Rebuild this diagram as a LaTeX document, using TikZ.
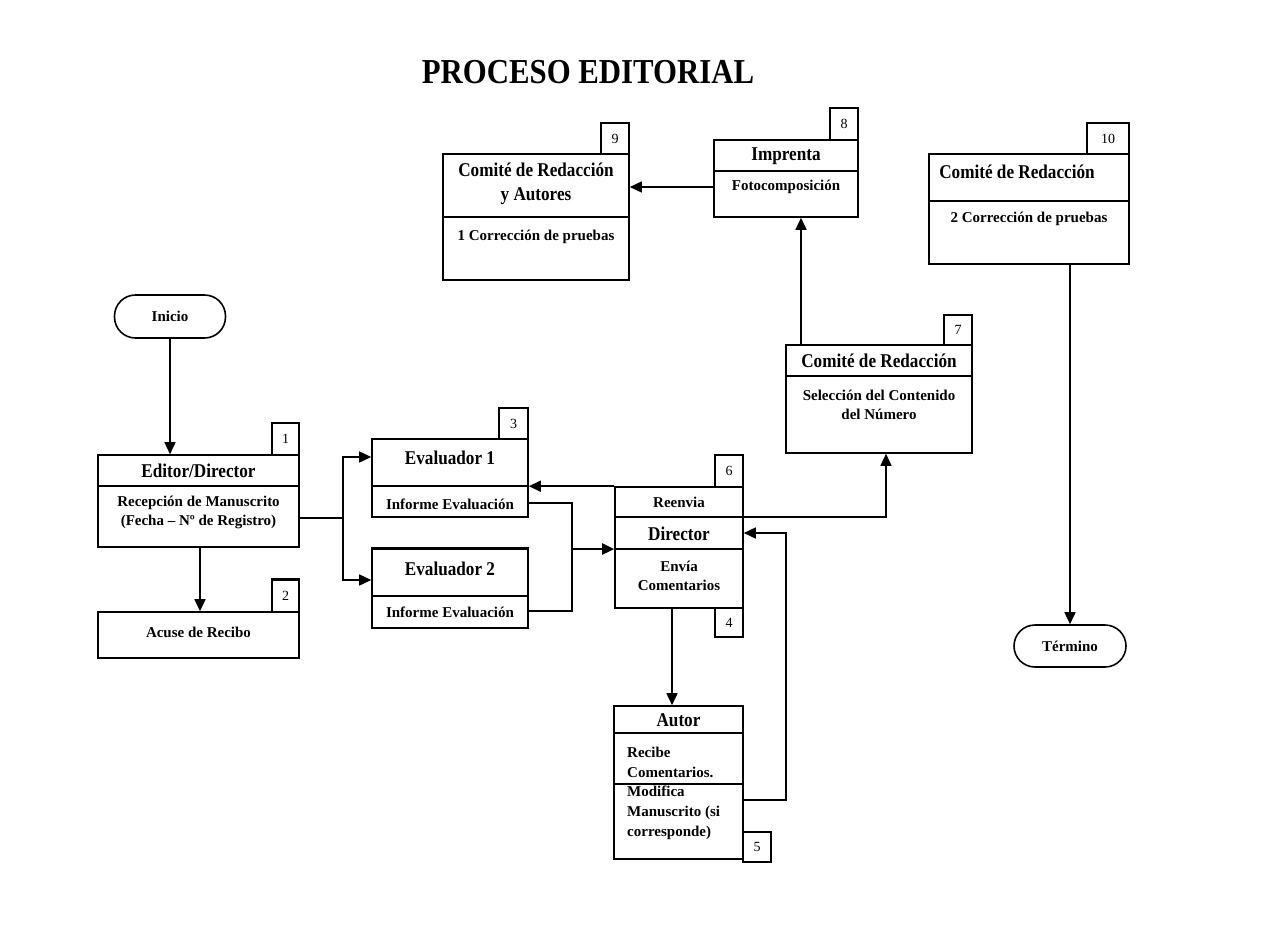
\documentclass[tikz,border=0pt]{standalone}
\usepackage{fontspec}
\setmainfont{Liberation Serif}
\newfontfamily\condfont[FakeStretch=0.88]{Liberation Serif}
\usetikzlibrary{arrows.meta}
\begin{document}
\begin{tikzpicture}[x=1pt,y=-1pt,
  ln/.style={line width=1.6pt, draw=black},
  thk/.style={line width=2.5pt, draw=black},
  arr/.style={ln, -{Triangle[length=12pt,width=11pt]}},
  thkarr/.style={thk, -{Triangle[length=12pt,width=11pt]}},
  box/.style={draw=black, line width=1.6pt, inner sep=0pt, fill=white},
  numbox/.style={draw=black, line width=1.6pt, inner sep=0pt, font=\fontsize{14}{14}\selectfont},
  term/.style={draw=black, line width=1.6pt, rounded corners=21pt, inner sep=0pt, font=\bfseries\fontsize{15}{18}\selectfont},
  head/.style={inner sep=0pt, align=center, font=\condfont\bfseries\fontsize{19.5}{24}\selectfont},
  body/.style={inner sep=0pt, align=center, font=\bfseries\fontsize{15}{19}\selectfont},
  bodyl/.style={inner sep=0pt, align=left, anchor=west, font=\bfseries\fontsize{15}{20}\selectfont},
  ttl/.style={inner sep=0pt, font=\condfont\bfseries\fontsize{35}{35}\selectfont}]
\useasboundingbox (0,0) rectangle (1276,945);

% title
\node[ttl] (title) at (588,72) {PROCESO EDITORIAL};

% terminators
\node[term, minimum width=111pt, minimum height=43pt] (inicio) at (170,316.5) {Inicio};
\node[term, minimum width=112pt, minimum height=42pt] (fin) at (1070,646) {Término};

% box 9
\node[box, minimum width=186pt, minimum height=126pt] (b9) at (536,217) {};
\node[numbox, minimum width=28pt, minimum height=31pt] (n9) at (615,138.5) {9};
\draw[ln] (b9.west |- 0,217) -- (b9.east |- 0,217);
\node[head] (t9a) at (536,184) {Comité de Redacción\\y Autores};
\node[body] (t9b) at (536,237) {1 Corrección de pruebas};

% box 8
\node[box, minimum width=144pt, minimum height=77pt] (b8) at (786,178.5) {};
\node[numbox, minimum width=28pt, minimum height=32pt] (n8) at (844,124) {8};
\draw[ln] (b8.west |- 0,171) -- (b8.east |- 0,171);
\node[head] (t8a) at (786,156) {Imprenta};
\node[body] (t8b) at (786,187) {Fotocomposición};

% box 10
\node[box, minimum width=200pt, minimum height=110pt] (b10) at (1029,209) {};
\node[numbox, minimum width=42pt, minimum height=31pt] (n10) at (1108,138.5) {10};
\draw[ln] (b10.west |- 0,201) -- (b10.east |- 0,201);
\node[head] (t10a) at (1017,172) {Comité de Redacción};
\node[body] (t10b) at (1029,219) {2 Corrección de pruebas};

% box 7
\node[box, minimum width=186pt, minimum height=108pt] (b7) at (879,399) {};
\node[numbox, minimum width=28pt, minimum height=30pt] (n7) at (958,330) {7};
\draw[ln] (b7.west |- 0,376) -- (b7.east |- 0,376);
\node[head] (t7a) at (879,361) {Comité de Redacción};
\node[body] (t7b) at (879,404.5) {Selección del Contenido\\del Número};

% box 1
\node[box, minimum width=201pt, minimum height=92pt] (b1) at (198.5,501) {};
\node[numbox, minimum width=27pt, minimum height=32pt] (n1) at (285.5,439) {1};
\draw[ln] (b1.west |- 0,486) -- (b1.east |- 0,486);
\node[head] (t1a) at (198.5,471) {Editor/Director};
\node[body] (t1b) at (198.5,512.5) {Recepción de Manuscrito\\(Fecha -- Nº de Registro)};

% box 2
\node[box, minimum width=201pt, minimum height=46pt] (b2) at (198.5,635) {};
\node[numbox, minimum width=27pt, minimum height=32pt] (n2) at (285.5,596) {2};
\draw[thk] (n2.north west) -- (n2.north east);
\node[body] (t2) at (198.5,632) {Acuse de Recibo};

% evaluador 1
\node[box, minimum width=156pt, minimum height=78pt] (e1) at (450,478) {};
\node[numbox, minimum width=29pt, minimum height=31pt] (n3) at (513.5,423.5) {3};
\draw[ln] (e1.west |- 0,486) -- (e1.east |- 0,486);
\node[head] (te1a) at (450,458) {Evaluador 1};
\node[body] (te1b) at (450,504) {Informe Evaluación};

% evaluador 2
\node[box, minimum width=156pt, minimum height=79pt] (e2) at (450,588.5) {};
\draw[thk] (e2.north west) -- (e2.north east);
\draw[ln] (e2.west |- 0,596) -- (e2.east |- 0,596);
\node[head] (te2a) at (450,569) {Evaluador 2};
\node[body] (te2b) at (450,612) {Informe Evaluación};

% director
\node[box, minimum width=128pt, minimum height=121pt] (d) at (679,547.5) {};
\node[numbox, minimum width=28pt, minimum height=32pt] (n6) at (729,471) {6};
\node[numbox, minimum width=28pt, minimum height=29pt] (n4) at (729,622.5) {4};
\draw[ln] (d.west |- 0,517) -- (d.east |- 0,517);
\draw[thk] (d.west |- 0,549) -- (d.east |- 0,549);
\node[body] (tda) at (679,502) {Reenvia};
\node[head] (tdb) at (679,534) {Director};
\node[body] (tdc) at (679,576) {Envía\\Comentarios};

% autor
\node[box, minimum width=129pt, minimum height=153pt] (au) at (678.5,782.5) {};
\node[numbox, minimum width=28pt, minimum height=30pt] (n5) at (757,847) {5};
\draw[ln] (au.west |- 0,733) -- (au.east |- 0,733);
\draw[ln] (au.west |- 0,784) -- (au.east |- 0,784);
\node[head] (tau) at (678.5,720) {Autor};
\node[bodyl] (tau1) at (627,762.5) {Recibe\\Comentarios.};
\node[bodyl] (tau2) at (627,812.5) {Modifica\\Manuscrito (si\\corresponde)};

% connectors
\draw[arr] (inicio.south) -- (inicio.south |- b1.north);
\draw[arr] ([xshift=1.5pt]b1.south) -- ([xshift=1.5pt]b1.south |- b2.north);

\coordinate (j1) at (343,518);
\coordinate (j1t) at (343,457);
\coordinate (j1b) at (343,580);
\draw[ln] (b1.east |- j1) -- (j1);
\draw[arr] (j1) -- (j1t) -- (e1.west |- j1t);
\draw[arr] (j1) -- (j1b) -- (e2.west |- j1b);

\draw[arr] (d.north west) -- (e1.east |- d.north west);

\coordinate (j2t) at (572,503);
\coordinate (j2) at (572,549);
\coordinate (j2b) at (572,611);
\draw[ln] (e1.east |- j2t) -- (j2t) -- (j2);
\draw[thk] (j2) -- (j2b) -- (e2.east |- j2b);
\draw[thkarr] (j2) -- (d.west |- j2);

\coordinate (k1) at (886,517);
\draw[arr] (d.east |- k1) -- (k1) -- (k1 |- b7.south);

\draw[arr] ([xshift=15pt]b8.south |- b7.north) -- ([xshift=15pt]b8.south);
\draw[arr] (b8.west |- t8b) -- (b9.east |- t8b);

\draw[arr] (fin.north |- b10.south) -- (fin.north);

\draw[arr] ([xshift=-7pt]d.south) -- ([xshift=-7pt]d.south |- au.north);

\coordinate (k3) at (786,800);
\coordinate (k4) at (786,533);
\draw[arr] (au.east |- k3) -- (k3) -- (k4) -- (d.east |- k4);
\end{tikzpicture}
\end{document}
